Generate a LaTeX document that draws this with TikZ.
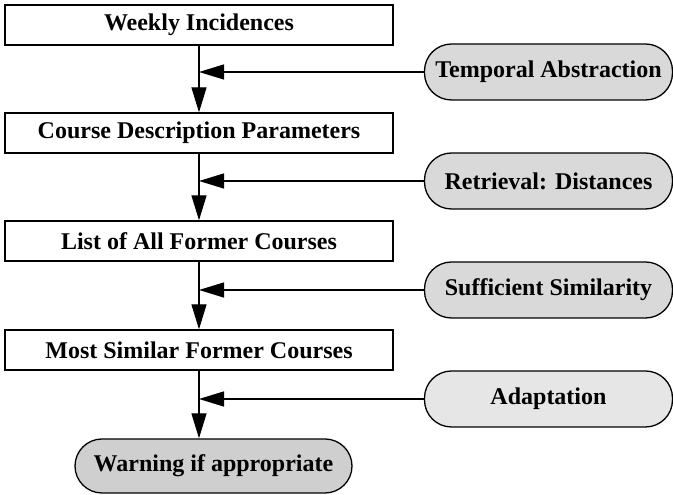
\documentclass[tikz,border=0pt]{standalone}
\usepackage{fontspec}
\setmainfont{Liberation Serif}
\usetikzlibrary{arrows.meta}
\definecolor{stepgray}{HTML}{D9D9D9}
\definecolor{adaptgray}{HTML}{E6E6E6}
\definecolor{warngray}{HTML}{CFCFCF}
\begin{document}
\begin{tikzpicture}[x=1pt,y=1pt,
    data/.style={draw,line width=1.3pt,minimum width=388pt,minimum height=40pt,
        inner sep=0pt,font=\bfseries\fontsize{24}{28}\selectfont},
    proc/.style={draw,line width=1.3pt,fill=stepgray,rounded corners=27pt,
        minimum width=248pt,minimum height=56pt,inner sep=0pt,
        font=\bfseries\fontsize{24}{28}\selectfont},
    flow/.style={line width=1.3pt,-{Triangle[length=25pt,width=15pt]}}]
\useasboundingbox (0,0) rectangle (673,495);
\node[data] (weekly) at (199,470) {Weekly Incidences};
\node[data] (course) at (199,362) {Course Description Parameters};
\node[data] (former) at (199,254) {List of All Former Courses};
\node[data] (similar) at (199,145) {Most Similar Former Courses};
\node[proc] (temporal) at (548.5,423) {Temporal Abstraction};
\node[proc] (retrieval) at (548.5,314) {Retrieval: Distances};
\node[proc] (sufficient) at (548.5,205) {Sufficient Similarity};
\node[proc,fill=adaptgray] (adapt) at (548.5,96) {Adaptation};
\node[proc,fill=warngray,minimum width=277pt,minimum height=54pt] (warning) at (213.5,29) {Warning if appropriate};
\draw[flow] (weekly.south) -- (course.north);
\draw[flow] (course.south) -- (former.north);
\draw[flow] (former.south) -- (similar.north);
\draw[flow] (similar.south) -- (similar.south |- warning.north);
\draw[flow] (temporal.west) -- (temporal.west -| weekly.south);
\draw[flow] (retrieval.west) -- (retrieval.west -| course.south);
\draw[flow] (sufficient.west) -- (sufficient.west -| former.south);
\draw[flow] (adapt.west) -- (adapt.west -| similar.south);
\end{tikzpicture}
\end{document}
